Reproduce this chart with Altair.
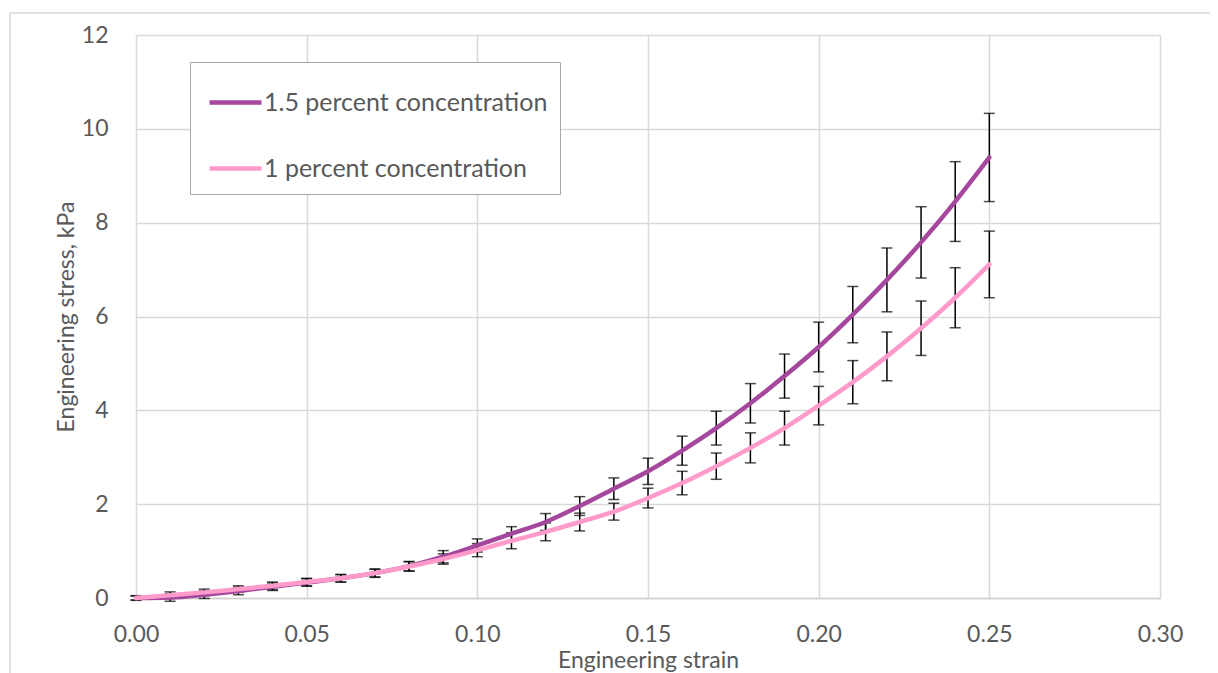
import altair as alt
import pandas as pd

strain = [0.00, 0.01, 0.02, 0.03, 0.04, 0.05, 0.06, 0.07, 0.08, 0.09, 0.10, 0.11, 0.12,
          0.13, 0.14, 0.15, 0.16, 0.17, 0.18, 0.19, 0.20, 0.21, 0.22, 0.23, 0.24, 0.25]

stress_15 = [0.00, 0.01, 0.07, 0.15, 0.24, 0.33, 0.42, 0.53, 0.68, 0.88, 1.12, 1.37, 1.62,
             1.96, 2.33, 2.70, 3.14, 3.62, 4.15, 4.73, 5.35, 6.04, 6.78, 7.58, 8.45, 9.39]
err_15 = [0.05, 0.08, 0.08, 0.08, 0.08, 0.08, 0.08, 0.09, 0.10, 0.13, 0.14, 0.15, 0.18,
          0.20, 0.23, 0.28, 0.31, 0.36, 0.42, 0.47, 0.53, 0.60, 0.68, 0.76, 0.85, 0.94]

stress_1 = [0.00, 0.06, 0.12, 0.19, 0.26, 0.34, 0.42, 0.53, 0.67, 0.83, 1.02, 1.22, 1.41,
            1.62, 1.84, 2.13, 2.45, 2.81, 3.20, 3.62, 4.10, 4.60, 5.15, 5.75, 6.40, 7.11]
err_1 = [0.04, 0.07, 0.07, 0.07, 0.08, 0.08, 0.08, 0.08, 0.10, 0.11, 0.14, 0.17, 0.19,
         0.19, 0.18, 0.21, 0.25, 0.28, 0.32, 0.36, 0.41, 0.46, 0.52, 0.58, 0.64, 0.71]

series_names = ["1.5 percent concentration", "1 percent concentration"]
series_colors = ["#a5479c", "#ff9bcb"]

x_ticks = [0.00, 0.05, 0.10, 0.15, 0.20, 0.25, 0.30]
y_ticks = [0, 2, 4, 6, 8, 10, 12]

rows = []
for name, ys, es in [(series_names[0], stress_15, err_15), (series_names[1], stress_1, err_1)]:
    for x, y, e in zip(strain, ys, es):
        rows.append({"strain": x, "stress": y, "lo": y - e, "hi": y + e, "series": name})
df = pd.DataFrame(rows)

FONT = "Lato"
GREY = "#595959"

xs = alt.Scale(domain=[0, 0.30], nice=False)
ys = alt.Scale(domain=[0, 12], nice=False)

x_enc = alt.X("strain:Q", scale=xs,
              axis=alt.Axis(title="Engineering strain", values=x_ticks, format=".2f",
                            labelPadding=25, titlePadding=3, labelFlush=False))
y_enc = alt.Y("stress:Q", scale=ys,
              axis=alt.Axis(title="Engineering stress, kPa", values=y_ticks,
                            labelPadding=28, titlePadding=3, domain=False))

color_enc = alt.Color("series:N",
                      scale=alt.Scale(domain=series_names, range=series_colors),
                      legend=alt.Legend(orient="none", legendX=54, legendY=27, title=None,
                                        symbolType="stroke", symbolSize=2704,
                                        symbolStrokeWidth=4.5, labelFontSize=25,
                                        labelColor=GREY, labelFont=FONT,
                                        strokeColor="#a6a6a6", fillColor="white",
                                        padding=12, rowPadding=24, symbolOffset=5,
                                        labelOffset=0, labelLimit=400),
                      sort=series_names)

base = alt.Chart(df)

frame = alt.Chart(pd.DataFrame({"k": [0]})).mark_rect(
    fill="transparent", stroke="#d9d9d9", strokeWidth=1.5, clip=False
).encode(x=alt.value(-126), x2=alt.value(1200), y=alt.value(-22), y2=alt.value(700))

err_rule = base.mark_rule(color="black", strokeWidth=1.5).encode(
    x="strain:Q", y="lo:Q", y2="hi:Q")
err_cap_hi = base.mark_tick(color="black", orient="horizontal", size=11, thickness=1.5).encode(
    x="strain:Q", y="hi:Q")
err_cap_lo = base.mark_tick(color="black", orient="horizontal", size=11, thickness=1.5).encode(
    x="strain:Q", y="lo:Q")

line15 = base.transform_filter(alt.datum.series == series_names[0]).mark_line(
    strokeWidth=4.5, interpolate="monotone", strokeCap="round").encode(
    x=x_enc, y=y_enc, color=color_enc)
line1 = base.transform_filter(alt.datum.series == series_names[1]).mark_line(
    strokeWidth=4.5, interpolate="monotone", strokeCap="round").encode(
    x=x_enc, y=y_enc, color=color_enc)

chart = alt.layer(frame, err_rule, err_cap_hi, err_cap_lo, line15, line1).properties(
    width=1024, height=563,
    autosize=alt.AutoSizeParams(type="none"),
    padding={"left": 128, "top": 27, "right": 50, "bottom": 80},
).configure_axis(
    labelFont=FONT, titleFont=FONT, labelFontSize=23, titleFontSize=23,
    labelColor=GREY, titleColor=GREY, titleFontWeight="normal",
    gridColor="#d9d9d9", gridWidth=1.5, domainColor="#d0d0d0", domainWidth=1.5,
    ticks=False,
).configure_view(strokeWidth=0)

chart.save("out.html", embed_options={"renderer": "svg", "actions": False})
